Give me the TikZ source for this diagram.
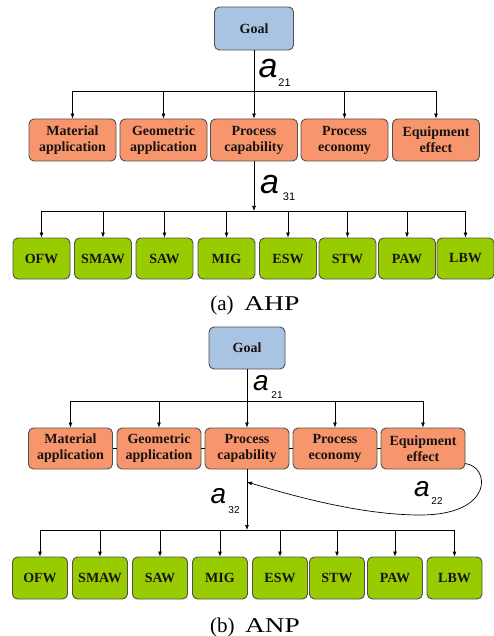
\documentclass[tikz,border=0pt]{standalone}
\usepackage{fontspec}
\setmainfont{Liberation Serif}
\newfontfamily\lsans{Liberation Sans}
\usetikzlibrary{arrows.meta}
\definecolor{goalblue}{RGB}{168,196,226}
\definecolor{critorange}{RGB}{247,150,108}
\definecolor{altgreen}{RGB}{153,204,0}
\definecolor{boxline}{RGB}{80,80,80}
\definecolor{txt}{RGB}{25,18,18}
\begin{document}
\begin{tikzpicture}[x=1pt,y=-1pt,
  box/.style={draw=boxline, line width=0.9pt, rounded corners=5pt, inner sep=0pt,
    font=\fontsize{14}{16}\selectfont\bfseries, text=txt, align=center},
  goalbox/.style={box, fill=goalblue, minimum width=79pt, minimum height=43pt},
  critbox/.style={box, fill=critorange, minimum width=87pt, minimum height=42pt},
  altbox/.style={box, fill=altgreen, minimum width=57pt, minimum height=41pt},
  arr/.style={-{Latex[length=5pt,width=4pt]}, line width=0.7pt},
  link/.style={line width=0.7pt},
  alab/.style={font=\lsans\itshape\fontsize{34}{34}\selectfont, inner sep=0pt},
  sublab/.style={font=\lsans\fontsize{11}{11}\selectfont, inner sep=0pt},
  caption/.style={font=\fontsize{21}{24}\selectfont, anchor=base, inner sep=0pt}]
\useasboundingbox (0,0) rectangle (494,636);

% ---------------- (a) AHP ----------------
\node[goalbox] (goalA) at (254,28.5) {Goal};
\node[critbox] (critA1) at (72.5,140) {Material\\application};
\node[critbox] (critA2) at (163.5,140) {Geometric\\application};
\node[critbox] (critA3) at (254,140) {Process\\capability};
\node[critbox] (critA4) at (344.5,140) {Process\\economy};
\node[critbox] (critA5) at (436,140) {Equipment\\effect};

\node[altbox] (altA1) at (41.5,258.5) {OFW};
\node[altbox] (altA2) at (103,258.5) {SMAW};
\node[altbox] (altA3) at (164.5,258.5) {SAW};
\node[altbox] (altA4) at (226.5,258.5) {MIG};
\node[altbox] (altA5) at (288,258.5) {ESW};
\node[altbox] (altA6) at (347.5,258.5) {STW};
\node[altbox] (altA7) at (407,258.5) {PAW};
\node[altbox] (altA8) at (465.5,258.5) {LBW};

\coordinate (busA1) at (0,91);
\coordinate (busA2) at (0,211);
\draw[link] (critA1 |- busA1) -- (critA5 |- busA1);
\draw[arr] (goalA.south) -- (critA3.north);
\foreach \i in {1,2,4,5} \draw[arr] (critA\i |- busA1) -- (critA\i.north);
\draw[link] (altA1 |- busA2) -- (altA8 |- busA2);
\draw[arr] (critA3.south) -- (critA3 |- busA2);
\foreach \i in {1,...,8} \draw[arr] (altA\i |- busA2) -- (altA\i.north);

\node[alab] (aA21) at (268,69) {a};
\node[sublab] (sA21) at (284.5,83) {21};
\node[alab] (aA31) at (269.5,185) {a};
\node[sublab] (sA31) at (289,197) {31};

\node[caption] (capA) at (255,310) {(a)\hspace{0.5em}\scalebox{1.32}[1]{AHP}};

% ---------------- (b) ANP ----------------
\begin{scope}[critbox/.append style={minimum width=84pt, minimum height=41pt},
              altbox/.append style={minimum width=55pt, minimum height=42pt},
              alab/.append style={font=\lsans\itshape\fontsize{28}{28}\selectfont},
              sublab/.append style={font=\lsans\fontsize{10}{10}\selectfont}]
\node[goalbox, minimum width=76pt, minimum height=42pt] (goalB) at (247,348) {Goal};
\node[critbox] (critB1) at (70.5,448.5) {Material\\application};
\node[critbox] (critB2) at (159,448.5) {Geometric\\application};
\node[critbox] (critB3) at (247,448.5) {Process\\capability};
\node[critbox] (critB4) at (335,448.5) {Process\\economy};
\node[critbox] (critB5) at (423,448.5) {Equipment\\effect};

\node[altbox] (altB1) at (40,578) {OFW};
\node[altbox] (altB2) at (100,578) {SMAW};
\node[altbox] (altB3) at (160,578) {SAW};
\node[altbox] (altB4) at (220,578) {MIG};
\node[altbox] (altB5) at (280,578) {ESW};
\node[altbox] (altB6) at (337,578) {STW};
\node[altbox] (altB7) at (395,578) {PAW};
\node[altbox] (altB8) at (454.5,578) {LBW};

\foreach \i/\j in {1/2,2/3,3/4,4/5} \draw[link] (critB\i.east) -- (critB\j.west);

\coordinate (busB1) at (0,401);
\coordinate (busB2) at (0,530);
\draw[link] (critB1 |- busB1) -- (critB5 |- busB1);
\draw[arr] (goalB.south) -- (critB3.north);
\foreach \i in {1,2,4,5} \draw[arr] (critB\i |- busB1) -- (critB\i.north);
\draw[link] (altB1 |- busB2) -- (altB8 |- busB2);
\draw[arr] (critB3.south) -- (critB3 |- busB2);
\foreach \i in {1,...,8} \draw[arr] (altB\i |- busB2) -- (altB\i.north);

\coordinate (loopS) at (465,463.5);
\coordinate (hitB) at (247,482);
\draw[arr] (loopS) .. controls (490,466) and (495,515) .. (420,515)
                   .. controls (360,515) and (290,495) .. (hitB);

\node[alab] (aB21) at (261,383) {a};
\node[sublab] (sB21) at (277,395) {21};
\node[alab] (aB32) at (218.5,496.5) {a};
\node[sublab] (sB32) at (234,510) {32};
\node[alab] (aB22) at (422,489.5) {a};
\node[sublab] (sB22) at (437,501.5) {22};
\end{scope}

\node[caption] (capB) at (255,632) {(b)\hspace{0.5em}\scalebox{1.3}[1]{ANP}};
\end{tikzpicture}
\end{document}
